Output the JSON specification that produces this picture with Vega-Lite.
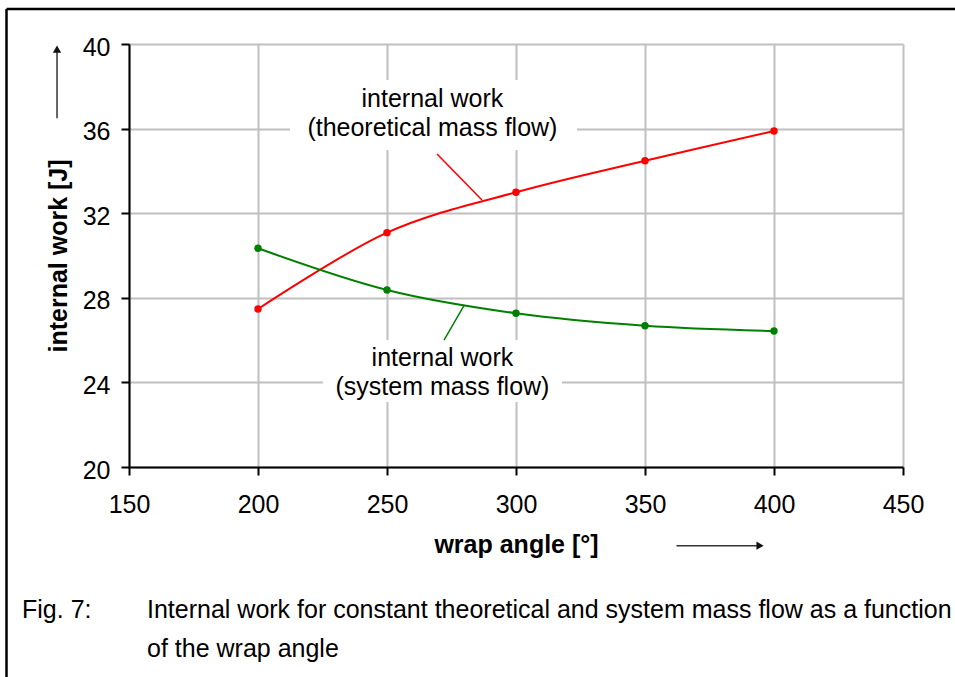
{
  "$schema": "https://vega.github.io/schema/vega-lite/v6.json",
  "width": 774,
  "height": 423,
  "autosize": {"type": "none"},
  "padding": {"left": 129, "top": 44, "right": 52, "bottom": 210},
  "background": "white",
  "datasets": {
    "series": [
      {"series": "theoretical", "x": 200, "y": 27.47},
      {"series": "theoretical", "x": 250, "y": 31.08},
      {"series": "theoretical", "x": 300, "y": 32.99},
      {"series": "theoretical", "x": 350, "y": 34.48},
      {"series": "theoretical", "x": 400, "y": 35.89},
      {"series": "system", "x": 200, "y": 30.34},
      {"series": "system", "x": 250, "y": 28.37},
      {"series": "system", "x": 300, "y": 27.27},
      {"series": "system", "x": 350, "y": 26.68},
      {"series": "system", "x": 400, "y": 26.43}
    ],
    "boxes": [
      {"x": 212.4, "x2": 323.6, "y": 38.3, "y2": 34.99},
      {"x": 225.2, "x2": 317.8, "y": 26.0, "y2": 23.07}
    ],
    "leaders": [
      {"series": "theoretical", "x": 269.4, "y": 34.8, "x2": 286.8, "y2": 32.62},
      {"series": "system", "x": 280.0, "y": 27.66, "x2": 272.1, "y2": 26.0}
    ],
    "annotations": [
      {"label": "internal work", "x": 267.6, "y": 37.01},
      {"label": "(theoretical mass flow)", "x": 267.6, "y": 35.65},
      {"label": "internal work", "x": 271.5, "y": 24.78},
      {"label": "(system mass flow)", "x": 271.5, "y": 23.4}
    ],
    "frame": [
      {"x": 102.52, "y": 41.65, "x2": 470.5, "y2": 41.65},
      {"x": 102.52, "y": 41.65, "x2": 102.52, "y2": 10.0}
    ],
    "arrowShafts": [
      {"x": 122.1, "y": 36.49, "x2": 122.1, "y2": 39.72},
      {"x": 362.2, "y": 16.28, "x2": 393.4, "y2": 16.28}
    ],
    "caption": [
      {"label": "Fig. 7:", "x": 108.53, "y": 12.84},
      {"label": "Internal work for constant theoretical and system mass flow as a function", "x": 156.98, "y": 12.84},
      {"label": "of the wrap angle", "x": 156.98, "y": 11.02}
    ]
  },
  "encoding": {
    "x": {
      "field": "x",
      "type": "quantitative",
      "scale": {"domain": [150, 450], "nice": false, "zero": false},
      "axis": {
        "title": "wrap angle [°]",
        "values": [150, 200, 250, 300, 350, 400, 450],
        "labelPadding": 17,
        "titlePadding": 15
      }
    },
    "y": {
      "field": "y",
      "type": "quantitative",
      "scale": {"domain": [20, 40], "nice": false, "zero": false},
      "axis": {
        "title": "internal work [J]",
        "values": [20, 24, 28, 32, 36, 40],
        "labelPadding": 11,
        "labelOffset": 3,
        "titlePadding": 11
      }
    }
  },
  "layer": [
    {
      "data": {"name": "boxes"},
      "mark": {"type": "rect", "fill": "white", "stroke": null},
      "encoding": {"x2": {"field": "x2"}, "y2": {"field": "y2"}}
    },
    {
      "data": {"name": "frame"},
      "mark": {"type": "rule", "color": "black", "strokeWidth": 2.5},
      "encoding": {"x2": {"field": "x2"}, "y2": {"field": "y2"}}
    },
    {
      "data": {"name": "series"},
      "mark": {"type": "line", "interpolate": "cardinal", "strokeWidth": 2},
      "encoding": {
        "color": {
          "field": "series",
          "type": "nominal",
          "scale": {"domain": ["theoretical", "system"], "range": ["#ff0000", "#008000"]},
          "legend": null
        }
      }
    },
    {
      "data": {"name": "series"},
      "mark": {"type": "point", "filled": true, "opacity": 1, "size": 55},
      "encoding": {
        "color": {"field": "series", "type": "nominal", "legend": null}
      }
    },
    {
      "data": {"name": "leaders"},
      "mark": {"type": "rule", "strokeWidth": 1.5},
      "encoding": {
        "x2": {"field": "x2"},
        "y2": {"field": "y2"},
        "color": {"field": "series", "type": "nominal", "legend": null}
      }
    },
    {
      "data": {"name": "annotations"},
      "mark": {"type": "text", "align": "center", "baseline": "alphabetic", "fontSize": 25, "color": "black"},
      "encoding": {"text": {"field": "label"}}
    },
    {
      "data": {"name": "arrowShafts"},
      "mark": {"type": "rule", "color": "#333333", "strokeWidth": 1.5},
      "encoding": {"x2": {"field": "x2"}, "y2": {"field": "y2"}}
    },
    {
      "data": {"values": [{"x": 122.1, "y": 39.76}]},
      "mark": {"type": "point", "shape": "triangle-up", "filled": true, "opacity": 1, "color": "#111111", "size": 70}
    },
    {
      "data": {"values": [{"x": 394.6, "y": 16.28}]},
      "mark": {"type": "point", "shape": "triangle-right", "filled": true, "opacity": 1, "color": "#111111", "size": 70}
    },
    {
      "data": {"name": "caption"},
      "mark": {"type": "text", "align": "left", "baseline": "alphabetic", "fontSize": 25, "color": "black"},
      "encoding": {"text": {"field": "label"}}
    }
  ],
  "config": {
    "font": "Liberation Sans",
    "view": {"stroke": null},
    "axis": {
      "grid": true,
      "gridColor": "#c0c0c0",
      "gridWidth": 2,
      "gridOpacity": 1,
      "domainColor": "black",
      "domainWidth": 2,
      "tickColor": "black",
      "tickWidth": 2,
      "tickSize": 8,
      "labelFont": "Liberation Sans",
      "labelFontSize": 25,
      "labelColor": "black",
      "labelFlush": false,
      "labelOverlap": false,
      "titleFont": "Liberation Sans",
      "titleFontSize": 25,
      "titleFontWeight": "bold",
      "titleColor": "black"
    }
  }
}
